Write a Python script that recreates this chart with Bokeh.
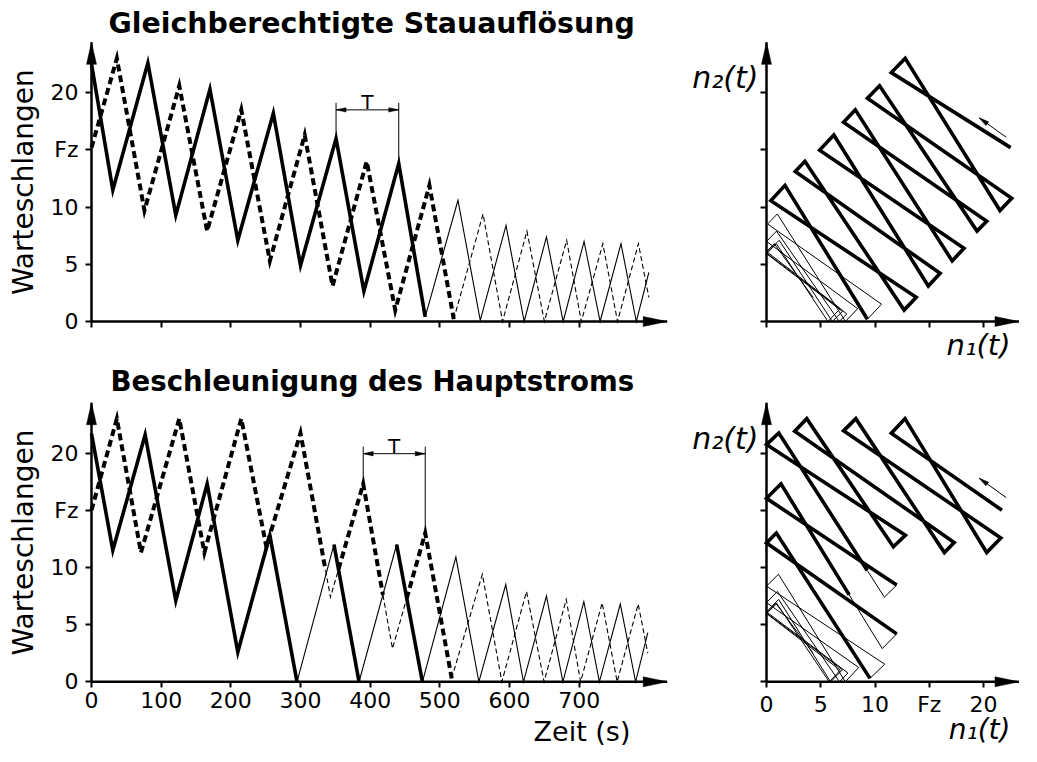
import math
import numpy as np
from bokeh.plotting import figure
from bokeh.models import FixedTicker, Label
from bokeh.layouts import column, row
from bokeh.embed import file_html
from bokeh.resources import INLINE

# ---------------- data ----------------
# upper panel: "Gleichberechtigte Stauauflösung"
top_n1_t = [0, 30.6, 80.9, 121, 170, 210, 261, 300, 351, 391, 441, 479, 526, 558, 595, 621, 653, 677, 707, 730, 760, 782, 800]
top_n1_v = [22.5, 11.5, 22.6, 9.3, 20.3, 7.1, 18.2, 4.9, 16.0, 2.65, 13.8, 0.4, 10.6, 0.1, 8.4, 0.0, 7.4, 0.0, 7.0, 0.0, 6.8, 0.0, 4.3]
top_n2_t = [0, 36.4, 76, 126, 166, 215, 256, 306, 346, 395, 436, 485, 520, 562, 590, 625, 650, 682, 703, 734, 755, 785, 800]
top_n2_v = [15.2, 23.0, 9.7, 20.6, 7.9, 18.5, 5.3, 16.3, 3.1, 14.0, 1.0, 11.9, 0.2, 9.4, 0.0, 7.9, 0.0, 7.1, 0.0, 6.8, 0.0, 6.8, 2.1]
top_n1_thick = [(0, 479)]
top_n2_thick = [(0, 520)]

# lower panel: "Beschleunigung des Hauptstroms"
bot_n1_t = [0, 30.6, 77, 121, 166, 210, 256, 295, 348, 384, 438, 475, 523, 556, 594.6, 620, 653, 676.6, 706.7, 729, 759, 781, 798.5]
bot_n1_v = [21.7, 11.5, 21.6, 7.1, 17.3, 2.6, 12.8, 0.0, 12.0, 0.0, 12.0, 0.0, 10.9, 0.0, 8.5, 0.0, 7.5, 0.0, 7.0, 0.0, 6.8, 0.0, 4.3]
bot_n2_t = [0, 36.4, 71, 126, 162, 215, 251, 300, 343, 390, 432, 479, 517, 561, 589, 624.4, 649.6, 681.4, 702, 733, 754.5, 784.7, 798.5]
bot_n2_v = [15.0, 23.0, 11.3, 23.0, 11.3, 23.0, 11.8, 21.75, 7.4, 17.3, 2.9, 13.0, 0.3, 9.4, 0.0, 7.9, 0.0, 7.2, 0.0, 6.9, 0.0, 6.8, 2.5]
bot_n1_thick = [(0, 295), (348, 384), (438, 475)]
bot_n2_thick = [(0, 336), (354.7, 418.3), (452.4, 517)]

queue_ticks = [0, 5, 10, 15, 20]
queue_labels = {15: "Fz"}
time_ticks = [0, 100, 200, 300, 400, 500, 600, 700]

titles = ["Gleichberechtigte Stauauflösung", "Beschleunigung des Hauptstroms"]

# ---------------- layout constants ----------------
FONT = "DejaVu Sans"
SX_T = 0.6967   # px per second
SY = 11.44      # px per queue unit
SX_P = 10.85    # px per queue unit (phase x)

W_TS, W_PH = 680, 341
H_TOP, H_BOT = 362, 384
TS_OX, PH_OX = 91, 86
TOP_OY, BOT_OY = 321, 319.3

TIP_Y = 24.4
TS_TIP_X = 826.3
PH_TIP_X = 23.27
BASE_SHIFT = 0.275   # em, correction of the rendered baseline


def is_thick(t, spans):
    return any(a <= t <= b for a, b in spans)


def cut_times(ts, spans):
    cuts = set(float(t) for t in ts)
    for a, b in spans:
        for c in (a, b):
            if ts[0] < c < ts[-1]:
                cuts.add(float(c))
    return sorted(cuts)


def build_runs(cuts, fx, fy, flag):
    thick, thin = [], []
    cur = None
    for a, b in zip(cuts[:-1], cuts[1:]):
        f = flag(0.5 * (a + b))
        if cur is None or cur[0] != f:
            if cur is not None:
                (thick if cur[0] else thin).append((cur[1], cur[2]))
            cur = [f, [fx(a)], [fy(a)]]
        cur[1].append(fx(b))
        cur[2].append(fy(b))
    (thick if cur[0] else thin).append((cur[1], cur[2]))
    return thick, thin


def head(tip_x, tip_y, dx, dy, length, half_w, sx, sy):
    n = math.hypot(dx, dy)
    ux, uy = dx / n, dy / n
    px, py = -uy, ux
    bx, by = -ux * length, -uy * length
    xs = [tip_x, tip_x + (bx + px * half_w) / sx, tip_x + (bx - px * half_w) / sx]
    ys = [tip_y, tip_y + (by + py * half_w) / sy, tip_y + (by - py * half_w) / sy]
    return xs, ys


def make_fig(cw, ch, ox, oy, sx, xticks, xlabels, ylabels):
    p = figure(frame_width=cw, frame_height=ch,
               x_range=(-ox / sx, (cw - ox) / sx), y_range=(-(ch - oy) / SY, oy / SY),
               min_border_left=0, min_border_right=0, min_border_top=0, min_border_bottom=0,
               toolbar_location=None, output_backend="svg")
    p.grid.visible = False
    p.outline_line_color = None
    p.background_fill_color = "white"
    p.border_fill_color = "white"
    for ax in (p.xaxis, p.yaxis):
        ax.axis_line_color = None
        ax.major_tick_line_width = 2
        ax.major_tick_line_color = "black"
        ax.major_tick_in = 0
        ax.major_tick_out = 6
        ax.minor_tick_line_color = None
        ax.major_label_text_font = FONT
        ax.major_label_text_font_size = "22px"
        ax.major_label_text_color = "black"
    p.xaxis.fixed_location = 0
    p.yaxis.fixed_location = 0
    p.xaxis.ticker = FixedTicker(ticks=xticks)
    p.yaxis.ticker = FixedTicker(ticks=queue_ticks)
    p.xaxis.major_label_standoff = 4
    p.yaxis.major_label_standoff = 7
    p.xaxis.major_label_overrides = xlabels
    p.yaxis.major_label_overrides = ylabels
    return p


def lab(p, sx, x, y, text, size, style="normal", align="left", vertical=False):
    shift = BASE_SHIFT * size
    if vertical:
        x = x - shift / sx
        angle = math.pi / 2
    else:
        y = y + shift / SY
        angle = 0.0
    p.add_layout(Label(x=x, y=y, text=text, text_font=FONT, text_font_size=f"{size}px",
                       text_font_style=style, text_align=align,
                       text_baseline="alphabetic", angle=angle, text_color="black"))


def draw_series(p, ts, vs, spans, dashed):
    cuts = cut_times(ts, spans)
    thick, thin = build_runs(cuts, lambda t: t, lambda t: float(np.interp(t, ts, vs)),
                             lambda t: is_thick(t, spans))
    if thick:
        p.multi_line([r[0] for r in thick], [r[1] for r in thick], line_color="black",
                     line_width=4 if dashed else 3.6, line_join="miter",
                     line_dash="7 4" if dashed else "solid")
    if thin:
        p.multi_line([r[0] for r in thin], [r[1] for r in thin], line_color="black",
                     line_width=1.1, line_join="miter",
                     line_dash="5 3" if dashed else "solid")


def draw_phase(p, t1, v1, s1, t2, v2, s2):
    t_end = min(t1[-1], t2[-1])
    cuts = sorted(set(c for c in cut_times(t1, s1) + cut_times(t2, s2) if c <= t_end))
    fx = lambda t: float(np.interp(t, t1, v1))
    fy = lambda t: float(np.interp(t, t2, v2))
    thick, thin = build_runs(cuts, fx, fy, lambda t: is_thick(t, s1) or is_thick(t, s2))
    p.multi_line([r[0] for r in thin], [r[1] for r in thin], line_color="black",
                 line_width=1.0, line_join="miter")
    p.multi_line([r[0] for r in thick], [r[1] for r in thick], line_color="black",
                 line_width=3.6, line_join="miter")


def axes_arrows(p, tip_x, sx):
    p.segment(x0=[0, 0], y0=[0, 0], x1=[tip_x, 0], y1=[0, TIP_Y], line_color="black", line_width=2.5)
    hx, hy = [], []
    for xs, ys in (head(0, TIP_Y, 0, 1, 22, 5, sx, SY), head(tip_x, 0, 1, 0, 24, 5, sx, SY)):
        hx.append(xs)
        hy.append(ys)
    p.patches(hx, hy, fill_color="black", line_color="black", line_width=0.5)


def period_marker(p, tl, vl, tr, vr, arrow_y):
    top = arrow_y + 7 / SY
    p.segment(x0=[tl, tr], y0=[vl, vr], x1=[tl, tr], y1=[top, top], line_color="black", line_width=1)
    p.segment(x0=[tl], y0=[arrow_y], x1=[tr], y1=[arrow_y], line_color="black", line_width=1)
    hl = head(tl, arrow_y, -1, 0, 10, 2.2, SX_T, SY)
    hr = head(tr, arrow_y, 1, 0, 10, 2.2, SX_T, SY)
    p.patches([hl[0], hr[0]], [hl[1], hr[1]], fill_color="black", line_color="black", line_width=0.5)
    lab(p, SX_T, 0.5 * (tl + tr), arrow_y + 2.5 / SY, "T", 20, align="center")


def direction_arrow(p):
    x0, y0, x1, y1 = 22.1, 16.1, 19.6, 17.8
    p.segment(x0=[x0], y0=[y0], x1=[x1], y1=[y1], line_color="black", line_width=1)
    dx, dy = (x1 - x0) * SX_P, (y1 - y0) * SY
    hx, hy = head(x1, y1, dx, dy, 10, 2.3, SX_P, SY)
    p.patch(hx, hy, fill_color="black", line_color="black", line_width=0.5)


empty_time = {t: "" for t in time_ticks}
empty_queue = {q: "" for q in queue_ticks}

# ---------------- upper row ----------------
A = make_fig(W_TS, H_TOP, TS_OX, TOP_OY, SX_T, time_ticks, empty_time, queue_labels)
draw_series(A, top_n2_t, top_n2_v, top_n2_thick, True)
draw_series(A, top_n1_t, top_n1_v, top_n1_thick, False)
axes_arrows(A, TS_TIP_X, SX_T)
period_marker(A, top_n1_t[8], top_n1_v[8], top_n1_t[10], top_n1_v[10], 18.5)
lab(A, SX_T, 24.4, 25.35, titles[0], 28.4, style="bold")
lab(A, SX_T, -86.0, 12.18, "Warteschlangen", 28, align="center", vertical=True)

B = make_fig(W_PH, H_TOP, PH_OX, TOP_OY, SX_P, queue_ticks, empty_queue, empty_queue)
draw_phase(B, top_n1_t, top_n1_v, top_n1_thick, top_n2_t, top_n2_v, top_n2_thick)
axes_arrows(B, PH_TIP_X, SX_P)
direction_arrow(B)
lab(B, SX_P, -0.74, 20.63, "n₂(t)", 30, style="italic", align="right")
lab(B, SX_P, 22.49, -2.72, "n₁(t)", 29, style="italic", align="right")

# ---------------- lower row ----------------
C = make_fig(W_TS, H_BOT, TS_OX, BOT_OY, SX_T, time_ticks, {}, queue_labels)
draw_series(C, bot_n2_t, bot_n2_v, bot_n2_thick, True)
draw_series(C, bot_n1_t, bot_n1_v, bot_n1_thick, False)
axes_arrows(C, TS_TIP_X, SX_T)
period_marker(C, bot_n2_t[9], bot_n2_v[9], bot_n2_t[11], bot_n2_v[11], 19.94)
lab(C, SX_T, 27.3, 25.55, titles[1], 27.6, style="bold")
lab(C, SX_T, -86.0, 12.18, "Warteschlangen", 28, align="center", vertical=True)
lab(C, SX_T, 773.6, -5.0, "Zeit (s)", 27, align="right")

D = make_fig(W_PH, H_BOT, PH_OX, BOT_OY, SX_P, queue_ticks, queue_labels, empty_queue)
draw_phase(D, bot_n1_t, bot_n1_v, bot_n1_thick, bot_n2_t, bot_n2_v, bot_n2_thick)
axes_arrows(D, PH_TIP_X, SX_P)
direction_arrow(D)
lab(D, SX_P, -0.74, 20.54, "n₂(t)", 30, style="italic", align="right")
lab(D, SX_P, 22.49, -4.85, "n₁(t)", 28, style="italic", align="right")

layout = column(row(A, B), row(C, D))
open("out.html", "w").write(file_html(layout, INLINE))
